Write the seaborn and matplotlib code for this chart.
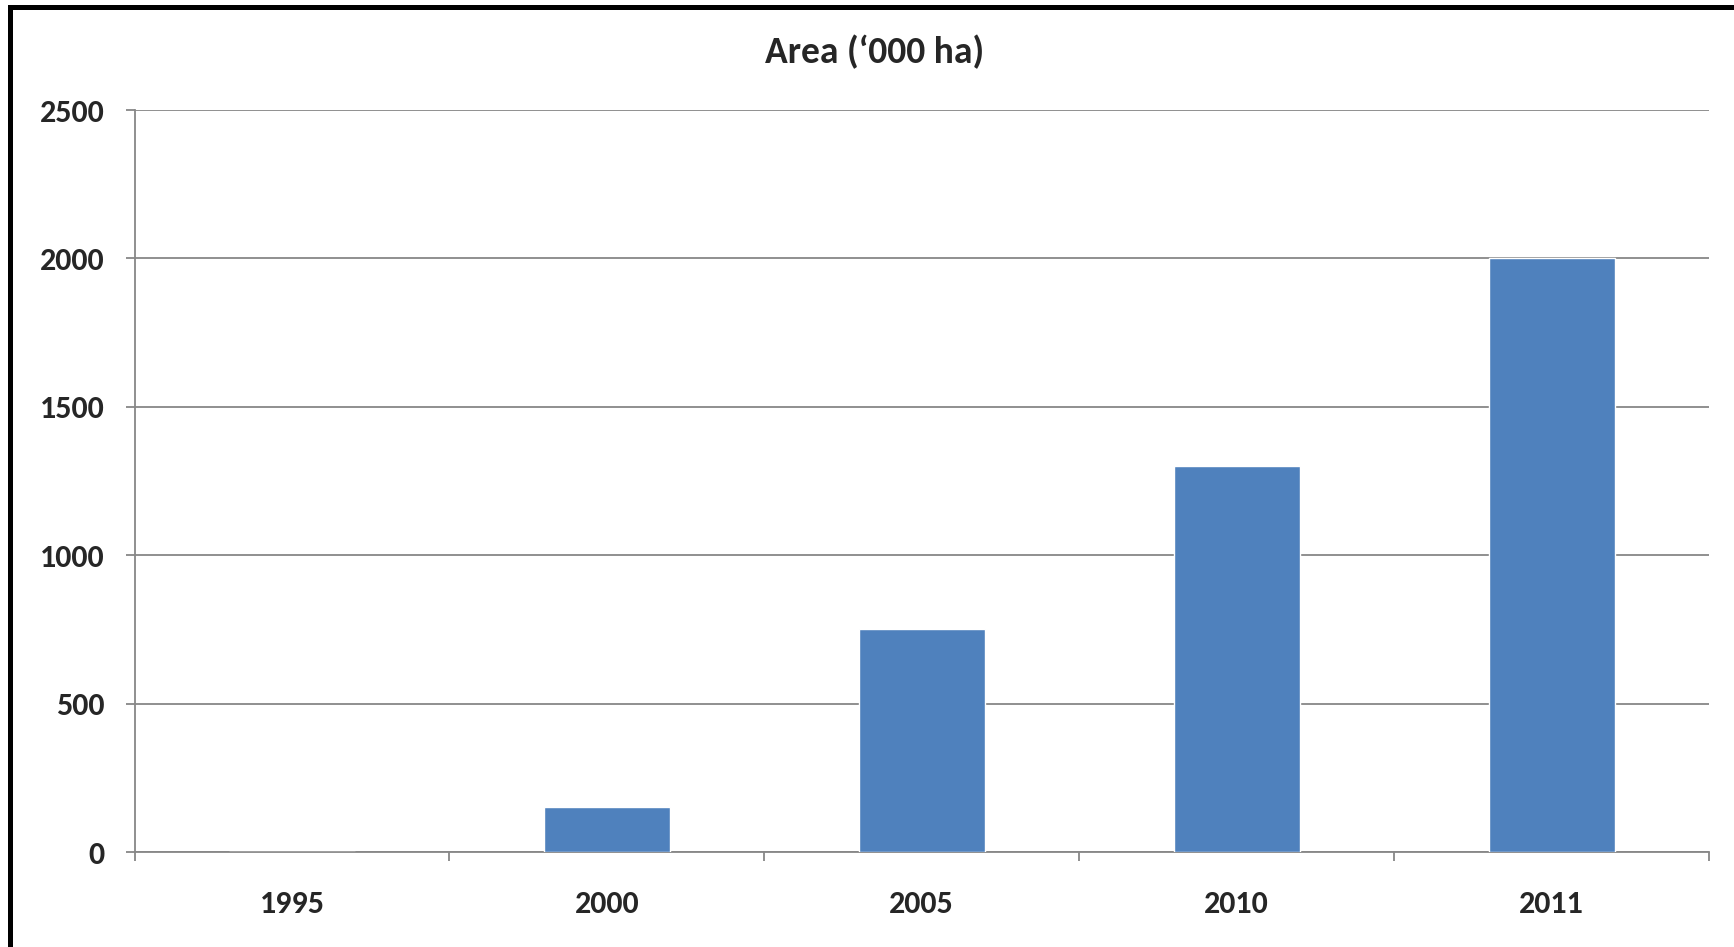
import numpy as np
import pandas as pd
import seaborn as sns
import matplotlib.pyplot as plt
from matplotlib.patches import Rectangle

# Datos
years = ["1995", "2000", "2005", "2010", "2011"]
area = [0, 150, 750, 1300, 2000]
y_ticks = [0, 500, 1000, 1500, 2000, 2500]

df = pd.DataFrame({"Year": years, "Area": area})

sns.set_style("white")
plt.rcParams["font.family"] = ["Carlito", "DejaVu Sans"]
plt.rcParams["font.weight"] = "bold"

fig = plt.figure(figsize=(17.34, 9.47), dpi=100)
ax = fig.add_axes([0.0776, 0.1003, 0.908, 0.7835])

sns.barplot(data=df, x="Year", y="Area", color="#4F81BD", width=0.4,
            saturation=1, ax=ax, zorder=3)

grid_col = "#878787"
ax.set_ylim(0, 2500)
ax.set_xlim(-0.5, len(years) - 0.5)
ax.set_yticks(y_ticks)
ax.yaxis.grid(True, color=grid_col, lw=1.3, zorder=0)
ax.set_axisbelow(True)

# Ticks entre categorías
ax.set_xticks(np.arange(len(years)))
ax.set_xticks(np.arange(len(years) + 1) - 0.5, minor=True)
ax.tick_params(axis="x", which="major", length=0, pad=27, labelsize=23)
ax.tick_params(axis="x", which="minor", length=6.5, width=1.3, color=grid_col, direction="out", bottom=True)
ax.tick_params(axis="y", length=6.5, width=1.3, color=grid_col, direction="out", left=True, pad=15, labelsize=23)

for s in ["top", "right"]:
    ax.spines[s].set_visible(False)
for s in ["left", "bottom"]:
    ax.spines[s].set_color(grid_col)
    ax.spines[s].set_linewidth(1.3)

ax.set_xlabel("")
ax.set_ylabel("")

fig.text(0.5045, 0.933, "Area (\u2018000 ha)", ha="center", va="baseline",
         fontsize=27, fontweight="bold")

# Borde del gráfico
fig.add_artist(Rectangle((10 / 1734, -0.5), 1.5, 1.5 - 7 / 947, transform=fig.transFigure,
                         fill=False, edgecolor="black", lw=3.6))

fig.savefig("out.png", dpi=100)
